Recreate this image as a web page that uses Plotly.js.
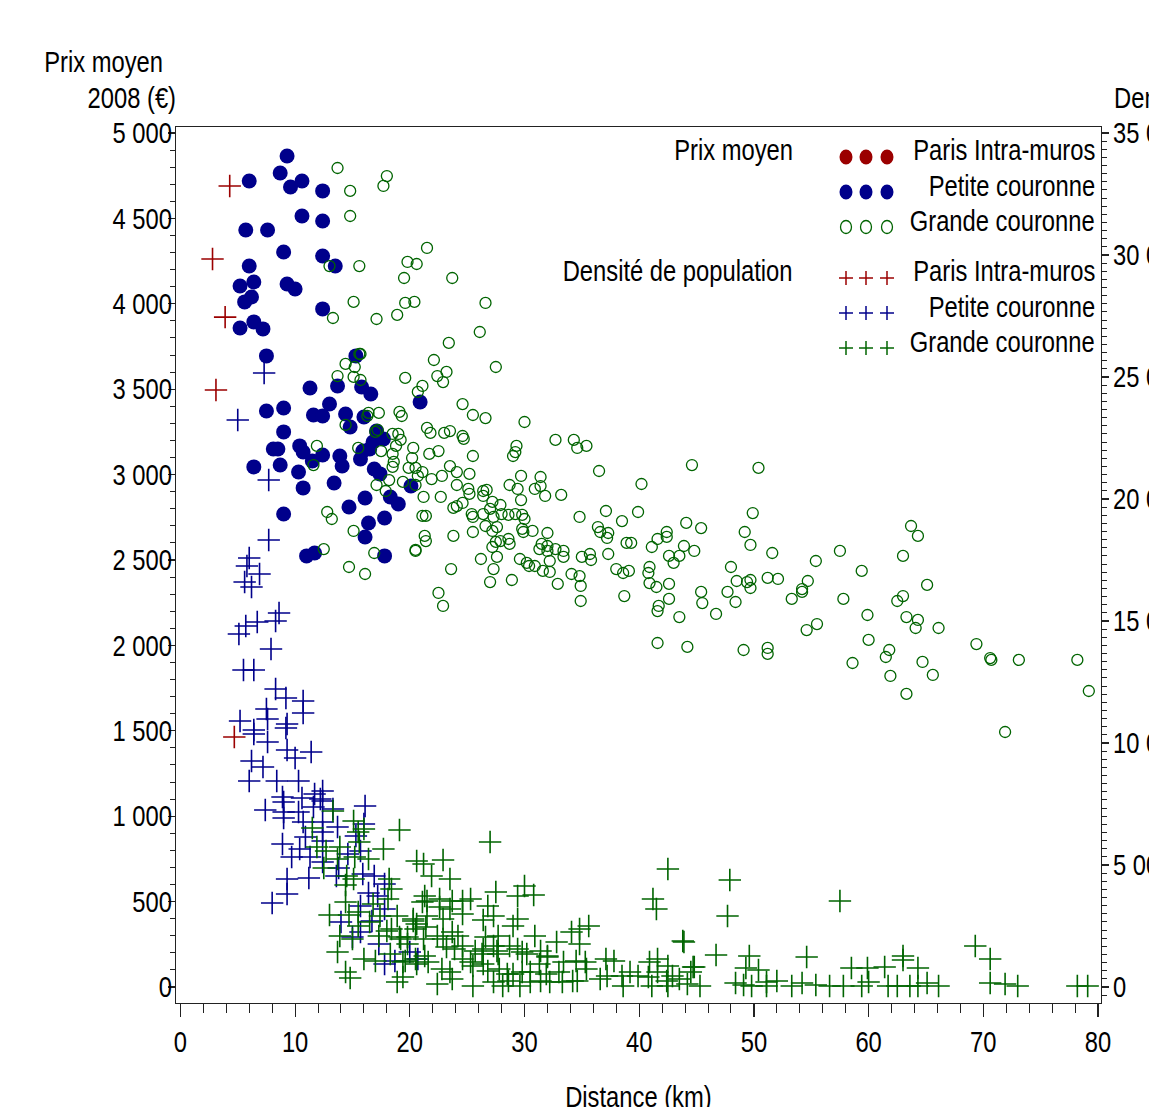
<!DOCTYPE html>
<html><head><meta charset="utf-8">
<script src="https://cdn.plot.ly/plotly-3.0.1.min.js"></script>
<style>html,body{margin:0;padding:0;overflow:hidden;background:#fff}</style>
</head><body><div id="chart" style="width:1149px;height:1107px"></div>
<script>
// ---------- DATA ----------
// Prix moyen 2008 (€) - Petite couronne
const pcPrixKm = [9.3,6.0,8.7,9.6,10.6,12.4,10.6,12.4,5.7,7.6,9.0,12.4,13.5,6.0,5.2,6.4,9.3,10.0,6.2,5.6,12.4,5.2,6.4,7.2,7.5,15.3,11.3,13.7,15.8,16.6,13.0,7.5,9.0,11.6,12.4,14.4,16.0,20.9,9.0,8.1,8.5,10.4,10.7,12.4,11.5,13.9,14.1,15.7,15.9,16.5,16.8,17.7,6.4,8.7,10.3,10.7,13.4,16.9,17.4,16.1,14.7,18.3,19.0,20.1,9.0,16.4,17.8,16.1,11.0,11.7,17.8,14.8,17.1];
const pcPrix = [4865,4719,4766,4684,4719,4661,4514,4485,4432,4432,4303,4280,4221,4221,4104,4128,4116,4087,4040,4011,3970,3858,3894,3853,3695,3695,3507,3519,3513,3472,3413,3372,3390,3349,3343,3355,3337,3425,3250,3150,3150,3168,3132,3115,3080,3109,3050,3091,3138,3150,3191,3209,3045,3056,3015,2922,2951,3033,3004,2863,2810,2869,2828,2933,2769,2717,2746,2635,2524,2541,2524,3279,3255];

// Prix moyen 2008 (€) - Grande couronne
const gcPrixKm = [13.7,14.8,18.0,17.7,14.8,13.0,15.6,19.8,20.6,19.5,15.1,13.3,17.1,18.9,19.6,20.4,15.6,14.4,15.2,13.7,15.1,15.7,19.6,20.7,17.3,19.1,19.3,16.4,16.3,14.4,11.9,11.6,15.5,17.0,17.2,18.5,19.0,19.2,18.8,17.5,18.5,20.3,20.2,18.6,18.5,19.9,20.5,20.7,18.2,17.1,17.9,19.4,20.5,12.8,13.2,15.1,12.5,16.9,14.7,16.1,20.5,15.7,
 21.5,23.7,26.6,26.1,23.4,27.5,22.1,22.4,23.2,22.9,21.1,24.6,25.5,26.6,30.0,21.5,21.8,23.0,23.5,24.6,24.7,21.7,22.5,25.5,23.5,22.8,24.1,25.2,21.1,21.9,21.2,22.7,24.1,25.1,25.2,26.4,26.7,26.4,27.2,27.9,27.0,23.8,24.1,24.6,25.4,25.5,26.4,27.3,28.0,26.6,27.2,27.6,25.5,23.8,28.6,29.2,29.7,29.7,28.7,29.4,30.9,31.4,31.4,31.8,33.2,29.0,29.2,29.3,32.7,34.3,34.6,35.4,36.5,34.8,37.1,36.4,36.6,37.3,37.2,37.3,38.0,29.8,30.0,29.8,30.7,29.9,32.0,31.5,32.0,32.7,33.4,33.4,32.2,35.0,35.7,35.8,31.3,32.0,29.6,30.2,30.4,30.9,31.6,32.2,32.9,34.1,34.8,34.9,34.9,28.6,28.7,27.9,27.5,27.2,27.6,27.3,27.0,26.2,28.9,23.6,21.3,21.4,20.5,22.5,22.9,21.1,21.4,
 44.6,50.4,40.2,39.9,38.5,38.9,39.3,38.6,39.1,38.7,42.4,42.4,41.6,41.1,44.1,45.4,43.9,44.8,42.6,43.5,43.0,40.9,40.8,40.9,41.5,42.6,42.6,41.7,41.6,45.4,45.5,43.5,46.7,41.6,44.2,49.9,49.2,49.7,51.6,48.0,48.5,49.4,49.7,49.7,47.7,48.4,51.2,52.1,49.1,51.2,51.2,53.3,54.2,54.2,54.7,55.4,54.6,55.5,57.5,59.4,57.8,59.9,60.0,58.6,61.8,61.5,61.9,63.3,64.7,65.6,63.7,64.3,63.0,65.1,63.0,62.5,63.3,64.3,64.1,66.1,69.4,70.6,70.7,73.1,78.2,79.2,71.9];
const gcPrix = [4795,4661,4748,4690,4514,4221,4221,4245,4233,4151,4011,3917,3911,3935,4005,4011,3706,3648,3630,3577,3572,3554,3566,3484,3361,3367,3343,3361,3343,3291,3168,3056,3156,3250,3261,3238,3238,3203,3168,3138,3121,3156,3097,3074,3045,3039,3039,2992,2968,2939,2904,2957,2939,2781,2740,2670,2564,2541,2459,2418,2559,3706,
 4327,4151,4005,3835,3771,3630,3671,3577,3601,3542,3519,3413,3349,3331,3308,3273,3244,3244,3255,3226,3209,3121,3138,3109,3050,2992,3015,3004,3015,2974,2869,2869,2939,2916,2887,2904,2910,2875,2840,2822,2799,2805,2816,2834,2769,2752,2769,2752,2769,2699,2670,2693,2664,2641,2764,2769,2851,2992,2939,2916,2916,2933,2986,2875,2881,3109,3132,3168,3203,3203,3156,3168,3021,2752,2787,2693,2664,2658,2629,2535,2447,2764,2740,2682,2670,2664,2658,2594,2582,2564,2553,2518,2494,2518,2535,2500,2564,2553,2506,2483,2465,2465,2436,2430,2360,2418,2406,2348,2260,2623,2594,2611,2606,2576,2518,2447,2371,2506,2383,2447,2641,2611,2553,2307,2231,2758,2758,
 3056,3039,2945,2781,2728,2600,2600,2424,2436,2289,2664,2635,2623,2576,2717,2687,2582,2553,2524,2524,2483,2459,2424,2365,2342,2360,2272,2231,2201,2313,2248,2166,2184,2014,1991,2775,2664,2588,2541,2459,2377,2371,2383,2336,2313,2254,2395,2389,1973,1985,1950,2272,2330,2313,2377,2494,2090,2125,2553,2436,2272,2178,2032,1897,1973,1932,1821,1716,1903,1827,2699,2641,2524,2354,2289,2260,2166,2149,2102,2102,2008,1926,1915,1915,1915,1733,1493];

// Densité de population (hab./km²) - Paris Intra-muros
const parisDensKm = [4.3,2.8,3.9,3.1,4.7];
const parisDens = [32825,29835,27455,24465,10245];

// Densité de population - Petite couronne
const pcDensKm = [7.3,5.0,7.7,7.7,6.0,5.8,6.9,5.6,6.2,8.6,8.3,6.7,5.7,5.1,7.9,5.5,6.4,8.3,9.2,10.7,10.7,7.5,7.6,5.2,6.4,6.4,9.3,9.2,7.6,9.3,10.0,11.4,6.2,7.2,6.0,8.4,10.3,8.9,10.6,11.7,12.4,12.2,12.4,9.0,11.6,7.4,9.0,9.0,10.3,10.7,16.1,13.3,12.4,12.4,12.4,13.7,16.0,10.9,10.4,8.9,9.7,11.3,12.4,13.8,13.6,15.3,15.7,14.6,9.3,9.3,11.2,8.0,15.9,16.9,17.8,16.4,17.2,15.7,14.0,16.7,15.7,15.0,17.3,18.7,17.8,20.0,17.8,20.7];
const pcDens = [25162,23236,20777,18318,17580,17253,16925,16597,16392,15327,14999,14958,14794,14466,13851,12991,12991,12212,11843,11720,11229,11392,10983,10901,10532,10368,10778,10614,10040,9712,9384,9630,9261,9016,8442,8442,8442,7786,7745,7909,8032,7704,7622,7581,7376,7253,7172,6926,7172,6762,7417,7294,6762,6352,5983,6557,6680,6147,5655,5860,5327,5327,5123,4877,4549,6188,5573,5450,4426,3811,4467,3442,4631,4549,4221,3852,3729,3319,2664,2705,2254,2049,1762,1065,943,1434,3196,1147];

// Densité de population - Grande couronne
const gcDensKm = [13.3,15.1,19.1,11.5,15.5,16.0,11.9,13.9,15.6,12.7,17.7,13.7,15.2,16.4,20.6,12.5,14.5,15.1,18.2,14.4,18.4,14.4,13.0,14.7,16.8,15.5,17.4,18.1,18.9,20.3,20.6,13.9,15.0,15.5,16.5,17.3,18.0,19.2,19.8,13.7,16.0,17.0,18.3,19.6,20.5,14.4,14.8,18.9,19.4,20.6,
 27.0,21.2,22.9,21.9,23.5,42.5,21.3,21.5,21.1,22.6,23.7,24.6,25.3,23.5,22.6,24.6,26.8,27.5,29.4,30.0,30.8,26.4,27.3,29.0,29.4,20.3,21.5,22.9,21.4,20.5,18.4,19.1,19.8,21.2,22.4,22.9,23.7,24.2,23.2,23.9,24.6,25.7,26.6,26.4,27.3,27.7,26.3,27.6,27.7,28.7,29.4,29.8,30.2,30.9,31.4,32.0,32.8,34.1,34.8,35.6,34.8,19.4,21.3,21.6,22.8,23.5,24.6,25.3,25.5,26.4,26.8,27.8,28.5,29.0,29.8,30.5,31.3,32.0,33.4,34.5,35.3,33.0,31.9,34.2,35.4,37.1,37.8,40.9,41.6,43.8,42.5,44.7,37.2,36.6,38.5,39.2,39.9,40.8,41.6,42.4,42.9,43.5,41.1,42.5,38.6,23.7,25.5,27.3,28.1,28.6,29.6,30.5,31.4,32.2,33.3,34.6,41.2,41.5,22.4,
 47.9,47.7,57.5,43.9,46.7,49.6,49.3,50.4,44.8,44.5,44.2,45.3,48.4,49.1,49.8,51.1,52.0,51.1,53.3,54.2,54.6,55.4,56.6,57.8,58.5,59.9,61.4,60.0,59.4,61.7,62.5,63.0,63.0,64.3,63.6,64.3,65.1,66.1,69.3,70.6,70.6,71.9,73.0,78.2,79.1];
const gcDens = [7212,6803,6434,6516,6352,6475,5737,5737,5942,5573,5655,5245,5327,5245,5163,4877,4549,4426,4426,4180,4016,3483,2951,2951,3401,3074,2910,3606,2910,2787,2582,2090,1967,2500,2664,2090,2295,1967,1762,1434,1147,1065,1352,1065,1147,615,369,205,410,943,
 5942,5040,5204,4549,4426,4836,3729,3524,3483,3606,3524,3524,3606,3196,3278,2992,3319,3893,3729,4139,3770,2746,2910,2500,2787,2705,2910,2787,2459,2377,2377,2049,2049,1967,2090,1967,2254,2090,1639,1557,1680,1475,2049,1557,1680,2090,1352,1475,1352,1680,1557,1434,1352,2090,1475,1270,1844,2254,2377,2500,1762,1024,1270,1024,738,615,1147,1024,861,943,656,738,533,533,615,615,943,1229,1024,1065,1024,615,533,246,738,1147,1065,1024,1147,1885,861,820,451,328,451,615,451,410,615,246,451,328,40,40,40,328,40,205,40,246,41,205,246,205,205,246,3606,3196,123,
 4385,2910,3524,1844,1311,1270,779,697,820,615,123,41,164,82,41,205,246,40,41,164,1229,82,40,41,779,779,820,205,40,40,41,1270,1106,779,41,40,164,41,1680,1147,164,123,40,41,41];

// Axis tick values
const xTicks = [0,10,20,30,40,50,60,70,80];
const prixTicks = [0,500,1000,1500,2000,2500,3000,3500,4000,4500,5000];
const densTicks = [0,5000,10000,15000,20000,25000,30000,35000];

// Legend labels
const legendGroups = ['Prix moyen', 'Densité de population'];
const zoneNames = ['Paris Intra-muros', 'Petite couronne', 'Grande couronne'];

// ---------- STYLE / GEOMETRY ----------
const FONT = '"Liberation Sans", Arial, sans-serif';
const NARROW = 0.82;   // horizontal compression to mimic a narrow sans face
const FS = 29;
const W = 1149, H = 1107;
const PL = 176, PR = 1101, PT = 127, PB = 1003;
const pw = PR - PL, ph = PB - PT;
const px2x = p => (p - PL) / pw;
const py2y = p => (PB - p) / ph;
const RED = '#9b0000', NAVY = '#00008b', GREEN = '#006400', AX = '#222';

// Left y axis: 0 at y=987px, 5000 at y=133px
const pxPerUnit = (987 - 133) / 5000;
const yLo = -(PB - 987) / pxPerUnit, yHi = (987 - PT) / pxPerUnit;
// x axis: 0 at 180.4px, 11.47 px/km
const xLo = -(180.4 - PL) / 11.47, xHi = (PR - 180.4) / 11.47;

const plusMarker = (c) => ({symbol: 'cross-thin-open', size: 16, color: c, line: {color: c, width: 1.6}});

const traces = [
  {x: pcPrixKm, y: pcPrix, type: 'scatter', mode: 'markers', yaxis: 'y', name: 'Prix PC',
   marker: {symbol: 'circle', size: 15, color: NAVY, line: {width: 0}}},
  {x: gcPrixKm, y: gcPrix, type: 'scatter', mode: 'markers', yaxis: 'y', name: 'Prix GC',
   marker: {symbol: 'circle-open', size: 11, color: GREEN, line: {color: GREEN, width: 1.3}}},
  {x: parisDensKm, y: parisDens, type: 'scatter', mode: 'markers', yaxis: 'y2', name: 'Dens Paris', marker: plusMarker(RED)},
  {x: pcDensKm, y: pcDens, type: 'scatter', mode: 'markers', yaxis: 'y2', name: 'Dens PC', marker: plusMarker(NAVY)},
  {x: gcDensKm, y: gcDens, type: 'scatter', mode: 'markers', yaxis: 'y2', name: 'Dens GC', marker: plusMarker(GREEN)}
];

// legend built from shapes + annotations
const rowsLabelPx = [150, 186, 221, 271, 307, 342];
const rowsMarkPx = [157, 192, 227, 278, 313, 348];
const colsPx = [846, 866, 887];
const shapes = [];
const annotations = [];
const mkStyle = [
  {kind: 'fill', c: RED}, {kind: 'fill', c: NAVY}, {kind: 'open', c: GREEN},
  {kind: 'plus', c: RED}, {kind: 'plus', c: NAVY}, {kind: 'plus', c: GREEN}
];
const txt = (text, xp, yp, anchor) => ({xref: 'paper', yref: 'paper', x: px2x(xp), y: py2y(yp),
  xanchor: anchor, align: anchor, yanchor: 'middle', showarrow: false, text: text,
  font: {family: FONT, size: FS, color: '#000'}});
rowsMarkPx.forEach((ry, i) => {
  const st = mkStyle[i];
  colsPx.forEach(cx => {
    const base = {xref: 'paper', yref: 'paper', xsizemode: 'pixel', ysizemode: 'pixel',
                  xanchor: px2x(cx), yanchor: py2y(ry)};
    if (st.kind === 'fill') {
      shapes.push(Object.assign({type: 'circle', x0: -6.5, x1: 6.5, y0: -7.5, y1: 7.5,
        fillcolor: st.c, line: {width: 0}}, base));
    } else if (st.kind === 'open') {
      shapes.push(Object.assign({type: 'circle', x0: -5.5, x1: 5.5, y0: -6.5, y1: 6.5,
        line: {color: st.c, width: 1.3}}, base));
    } else {
      shapes.push(Object.assign({type: 'line', x0: -7, x1: 7, y0: 0, y1: 0, line: {color: st.c, width: 1.5}}, base));
      shapes.push(Object.assign({type: 'line', x0: 0, x1: 0, y0: -7, y1: 7, line: {color: st.c, width: 1.5}}, base));
    }
  });
  annotations.push(txt(zoneNames[i % 3], 1097, rowsLabelPx[i], 'right'));
});
annotations.push(txt(legendGroups[0], 795, 150, 'right'));
annotations.push(txt(legendGroups[1], 795, 271, 'right'));
// axis titles
annotations.push(txt('Prix moyen', 165, 62, 'right'));
annotations.push(txt('2008 (€)', 178, 98, 'right'));
annotations.push(txt('Densité de population', 1112, 98, 'left'));
annotations.push(txt('Distance (km)', 638, 1097, 'center'));

const tickFont = {family: FONT, size: FS, color: '#000'};
const layout = {
  width: W, height: H,
  margin: {l: PL, r: W - PR, t: PT, b: H - PB, pad: 0},
  paper_bgcolor: '#fff', plot_bgcolor: '#fff',
  separators: ', ',
  showlegend: false,
  hovermode: false,
  font: {family: FONT, size: FS, color: '#000'},
  xaxis: {range: [xLo, xHi], tickvals: xTicks, ticks: 'outside', ticklen: 13, tickwidth: 1.2, tickcolor: AX,
    minor: {dtick: 2, tick0: 0, ticks: 'outside', ticklen: 9, tickwidth: 1, tickcolor: AX},
    showline: true, linecolor: AX, linewidth: 1.2, mirror: true, showgrid: false, zeroline: false,
    tickfont: tickFont},
  yaxis: {range: [yLo, yHi], tickvals: prixTicks, ticks: 'outside', ticklen: 7, tickwidth: 1.2, tickcolor: AX,
    minor: {dtick: 100, tick0: 0, ticks: 'outside', ticklen: 5, tickwidth: 1, tickcolor: AX},
    showline: true, linecolor: AX, linewidth: 1.2, showgrid: false, zeroline: false,
    ticklabelstandoff: -10, separatethousands: true, exponentformat: 'none', tickfont: tickFont},
  yaxis2: {range: [yLo * 7, yHi * 7], overlaying: 'y', side: 'right', tickvals: densTicks,
    ticks: 'outside', ticklen: 7, tickwidth: 1.2, tickcolor: AX,
    minor: {dtick: 5000 / 15, tick0: 0, ticks: 'outside', ticklen: 5, tickwidth: 1, tickcolor: AX},
    showline: true, linecolor: AX, linewidth: 1.2, showgrid: false, zeroline: false,
    ticklabelstandoff: -2, separatethousands: true, exponentformat: 'none', tickfont: tickFont},
  shapes: shapes,
  annotations: annotations
};

Plotly.newPlot('chart', traces, layout, {staticPlot: true, displayModeBar: false}).then(gd => {
  // compress every text horizontally around its own anchor point (keeps left/centre/right alignment)
  gd.querySelectorAll('svg text').forEach(t => {
    const x = parseFloat(t.getAttribute('x')) || 0;
    const y = parseFloat(t.getAttribute('y')) || 0;
    const tr = t.getAttribute('transform') || '';
    t.setAttribute('transform', tr + ' translate(' + x + ',' + y + ') scale(' + NARROW + ',1) translate(' + (-x) + ',' + (-y) + ')');
  });
});
</script>
</body></html>
